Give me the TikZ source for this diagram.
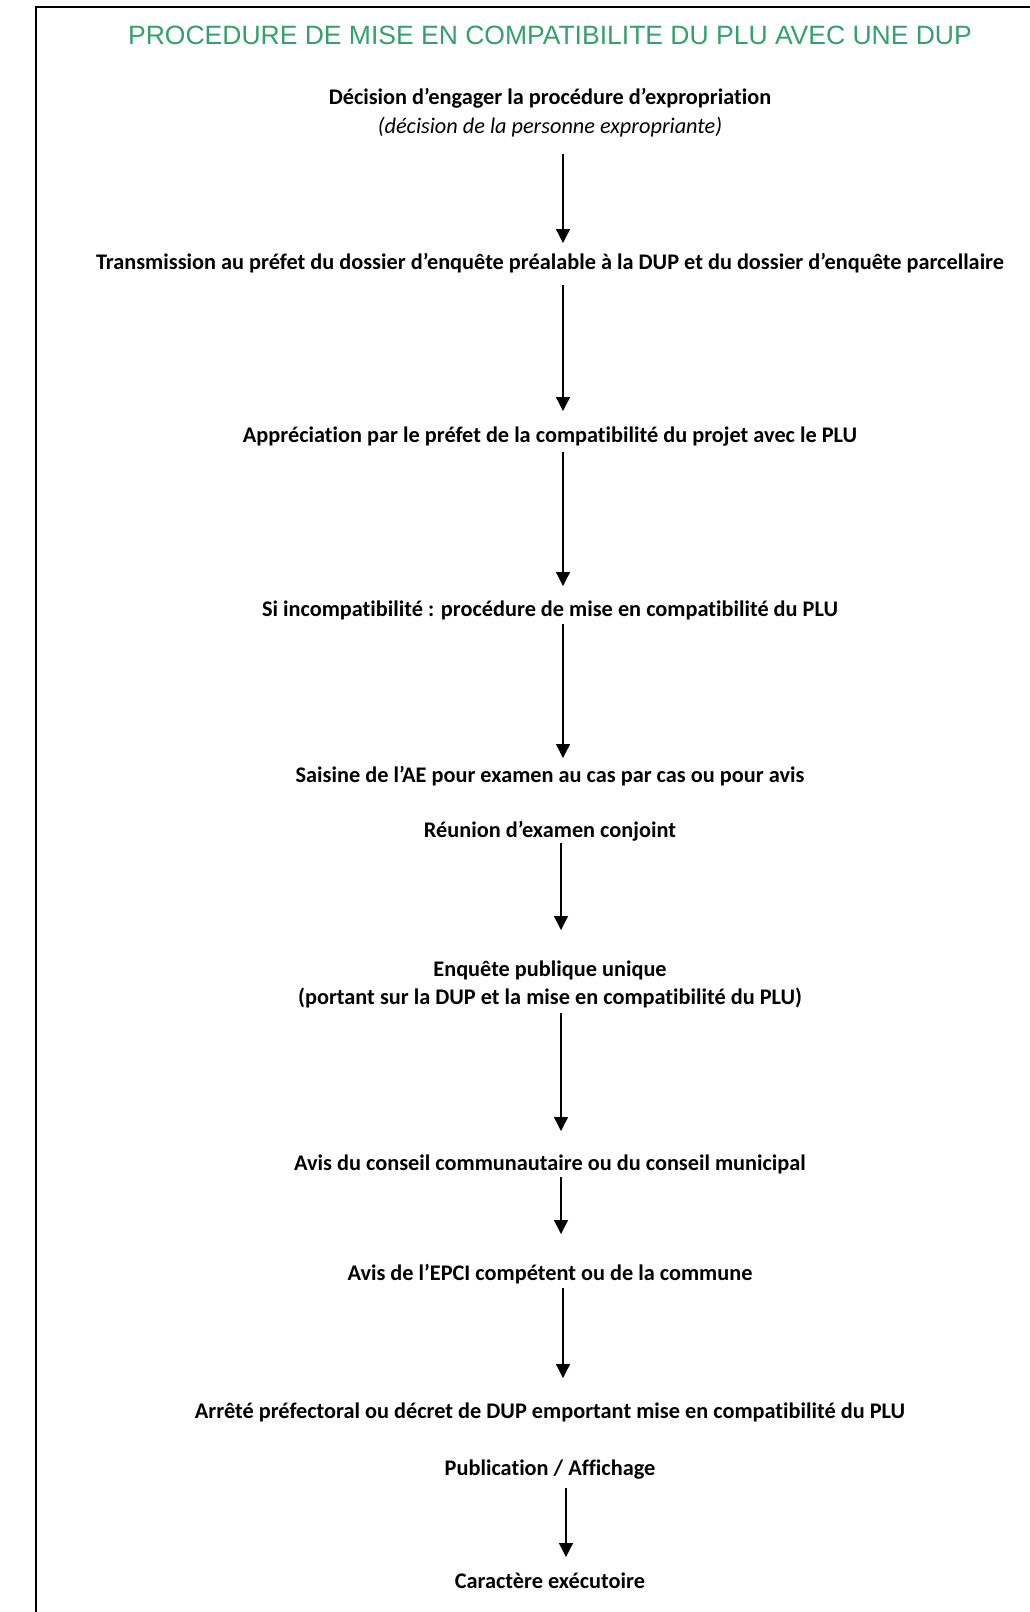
\documentclass[tikz,border=0pt]{standalone}
\usepackage{fontspec}
\setmainfont{Carlito}[Ligatures=NoCommon]
\newfontfamily\titlefont{Liberation Sans}
\usetikzlibrary{arrows.meta}
\definecolor{titlegreen}{RGB}{52,160,108}
\tikzset{
  lbl/.style={inner sep=0pt, font=\fontsize{22.3}{26}\selectfont\bfseries},
  lbli/.style={inner sep=0pt, font=\fontsize{22.3}{26}\selectfont\itshape},
  arr/.style={line width=1.3pt, -{Triangle[width=14pt,length=14pt]}},
  frame/.style={line width=2.2pt}
}
\begin{document}
\begin{tikzpicture}[x=1pt,y=-1pt]
\useasboundingbox (0,0) rectangle (1030,1612);
\draw[frame] (36,1612) -- (36,7) -- (1030,7);
\node[inner sep=0pt, text=titlegreen, font=\titlefont\fontsize{26.5}{30}\selectfont] (title) at (550,35) {PROCEDURE DE MISE EN COMPATIBILITE DU PLU AVEC UNE DUP};
\node[lbl] (n1) at (550,98) {Décision d’engager la procédure d’expropriation};
\node[lbli] (n1b) at (550,127) {(décision de la personne expropriante)};
\node[lbl] (n2) at (550,263) {Transmission au préfet du dossier d’enquête préalable à la DUP et du dossier d’enquête parcellaire};
\node[lbl] (n3) at (550,437) {Appréciation par le préfet de la compatibilité du projet avec le PLU};
\node[lbl] (n4) at (550,610) {Si incompatibilité : procédure de mise en compatibilité du PLU};
\node[lbl] (n5) at (550,776) {Saisine de l’AE pour examen au cas par cas ou pour avis};
\node[lbl] (n6) at (550,831) {Réunion d’examen conjoint};
\node[lbl] (n7) at (550,970) {Enquête publique unique};
\node[lbl] (n7b) at (550,998) {(portant sur la DUP et la mise en compatibilité du PLU)};
\node[lbl] (n8) at (550,1164) {Avis du conseil communautaire ou du conseil municipal};
\node[lbl] (n9) at (550,1274) {Avis de l’EPCI compétent ou de la commune};
\node[lbl] (n10) at (550,1412) {Arrêté préfectoral ou décret de DUP emportant mise en compatibilité du PLU};
\node[lbl] (n11) at (550,1470) {Publication / Affichage};
\node[lbl] (n12) at (550,1581) {Caractère exécutoire};
\coordinate (a1s) at (563,154); \coordinate (a1e) at (563,243);
\coordinate (a2s) at (563,285); \coordinate (a2e) at (563,411);
\coordinate (a3s) at (563,452); \coordinate (a3e) at (563,586);
\coordinate (a4s) at (563,624); \coordinate (a4e) at (563,758);
\coordinate (a5s) at (561,843); \coordinate (a5e) at (561,930);
\coordinate (a6s) at (561,1013); \coordinate (a6e) at (561,1131);
\coordinate (a7s) at (561,1177); \coordinate (a7e) at (561,1234);
\coordinate (a8s) at (563,1288); \coordinate (a8e) at (563,1378);
\coordinate (a9s) at (566,1488); \coordinate (a9e) at (566,1557);
\foreach \i in {1,...,9} { \draw[arr] (a\i s) -- (a\i e); }
\end{tikzpicture}
\end{document}
